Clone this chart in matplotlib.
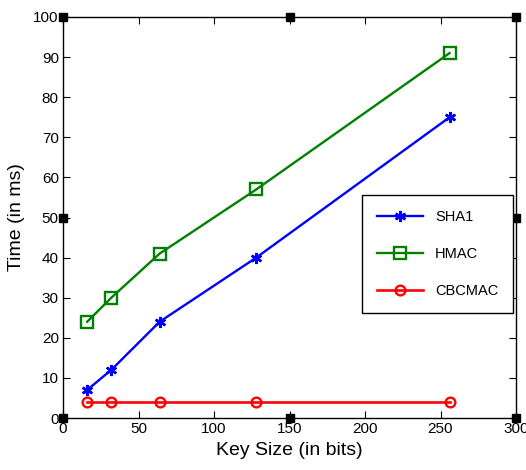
import matplotlib
matplotlib.use("Agg")
import matplotlib.pyplot as plt

plt.rcParams['font.family'] = ['Liberation Sans', 'DejaVu Sans']

key_sizes = [16, 32, 64, 128, 256]
sha1 = [7, 12, 24, 40, 75]
hmac = [24, 30, 41, 57, 91]
cbcmac = [4, 4, 4, 4, 4]

fig = plt.figure(figsize=(5.26, 4.70), dpi=100)
ax = fig.add_axes([63/526, 1-418/470, 453/526, 401/470])

ax.plot(key_sizes, sha1, color='#0000ff', lw=1.7, marker=(6, 2, 0), ms=8, mew=1.8, label='SHA1')
ax.plot(key_sizes, hmac, color='#008000', lw=1.7, marker='s', ms=8, mfc='none', mew=1.7, label='HMAC')
ax.plot(key_sizes, cbcmac, color='#ff0000', lw=1.9, marker='o', ms=7, mfc='none', mew=1.7, label='CBCMAC')

ax.set_xlim(0, 300)
ax.set_ylim(0, 100)
ax.set_xticks(range(0, 301, 50))
ax.set_yticks(range(0, 101, 10))
ax.tick_params(direction='in', top=True, right=True, labelsize=11, length=5, pad=3)
for s in ax.spines.values():
    s.set_linewidth(1.0)

ax.set_xlabel('Key Size (in bits)', fontsize=14, labelpad=4)
ax.set_ylabel('Time (in ms)', fontsize=14, labelpad=6)

# selection handles
for hx, hy in [(0, 0), (0.5, 0), (1, 0), (0, 0.5), (1, 0.5), (0, 1), (0.5, 1), (1, 1)]:
    ax.plot(hx, hy, 's', color='black', ms=5.5, transform=ax.transAxes, clip_on=False, zorder=5)

leg = ax.legend(loc='lower right', bbox_to_anchor=(0.993, 0.262), fontsize=10.5,
                fancybox=False, edgecolor='black', framealpha=1, labelspacing=1.6,
                borderpad=1.0, handlelength=3.2, borderaxespad=0)
leg.get_frame().set_linewidth(1.0)

fig.savefig('out.png', dpi=100)
